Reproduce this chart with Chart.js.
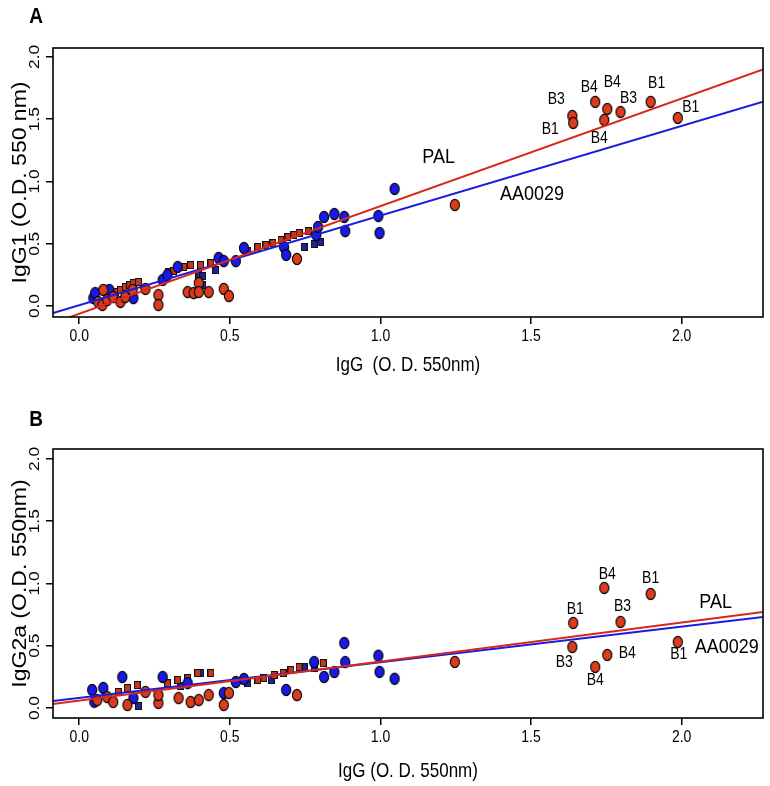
<!DOCTYPE html>
<html><head><meta charset="utf-8">
<script src="https://cdn.jsdelivr.net/npm/chart.js@4.4.1/dist/chart.umd.min.js"></script>
<style>
html,body{margin:0;padding:0;background:#fff;}
#wrap{position:relative;width:770px;height:786px;overflow:hidden;}
canvas{position:absolute;left:0;}
</style></head><body>
<div id="wrap">
<canvas id="cA" width="770" height="393" style="top:0"></canvas>
<canvas id="cB" width="770" height="393" style="top:393px"></canvas>
</div>
<script>
// ---------- data ----------
const xTicks = [0, 0.5, 1.0, 1.5, 2.0];
const yTicks = [0, 0.5, 1.0, 1.5, 2.0];

// Panel A : IgG1 vs IgG
const palA_x = [0.063,0.077,0.08,0.093,0.113,0.137,0.153,0.177,0.22,0.263,0.263,0.36,0.38,0.397,0.397,0.43,0.48,0.497,0.723,1.247];
const palA_y = [0.032,0.008,0.129,0.048,0.072,0.032,0.072,0.129,0.137,0.088,0.008,0.112,0.104,0.185,0.112,0.112,0.137,0.08,0.378,0.811];
const aaA_x  = [0.047,0.053,0.1,0.18,0.277,0.293,0.327,0.463,0.48,0.52,0.547,0.68,0.687,0.787,0.793,0.813,0.847,0.88,0.883,0.993,0.997,1.047];
const aaA_y  = [0.064,0.104,0.129,0.064,0.209,0.249,0.313,0.386,0.361,0.361,0.466,0.474,0.41,0.57,0.635,0.715,0.739,0.715,0.602,0.723,0.586,0.94];
const palSqA_x = [0.097,0.12,0.137,0.153,0.167,0.18,0.197,0.297,0.313,0.347,0.37,0.403,0.437,0.593,0.62,0.643,0.67,0.693,0.713,0.73,0.76];
const palSqA_y = [0.088,0.112,0.129,0.153,0.169,0.185,0.193,0.273,0.281,0.313,0.329,0.329,0.345,0.474,0.49,0.506,0.53,0.554,0.57,0.586,0.6];
const aaSqA_x = [0.397,0.41,0.41,0.453,0.56,0.747,0.78,0.8];
const aaSqA_y = [0.249,0.169,0.241,0.289,0.44,0.474,0.498,0.514];
const strainA_x = [1.637,1.64,1.713,1.753,1.743,1.797,1.897,1.987];
const strainA_y = [1.526,1.47,1.639,1.582,1.494,1.558,1.639,1.51];
const strainA_lab = ['B3','B1','B4','B4','B4','B3','B1','B1'];
const fitA = {palSlope:0.864, palIntercept:-0.062, aaSlope:0.72, aaIntercept:0.007};

// Panel B : IgG2a vs IgG
const palB_x = [0.06,0.093,0.113,0.16,0.22,0.263,0.263,0.33,0.37,0.397,0.43,0.497,0.48,0.723,1.247];
const palB_y = [0.064,0.088,0.048,0.024,0.129,0.04,0.104,0.08,0.048,0.064,0.104,0.12,0.024,0.104,0.37];
const aaB_x  = [0.043,0.05,0.08,0.143,0.18,0.277,0.36,0.48,0.52,0.547,0.687,0.78,0.813,0.847,0.88,0.883,0.993,0.997,1.047];
const aaB_y  = [0.145,0.05,0.161,0.249,0.08,0.249,0.2,0.12,0.209,0.233,0.145,0.369,0.249,0.289,0.522,0.369,0.42,0.29,0.235];
const palSqB_x = [0.13,0.16,0.193,0.293,0.327,0.36,0.393,0.437,0.593,0.613,0.647,0.677,0.703,0.73,0.81];
const palSqB_y = [0.129,0.161,0.185,0.2,0.225,0.24,0.281,0.281,0.225,0.241,0.265,0.281,0.305,0.329,0.361];
const aaSqB_x = [0.197,0.337,0.403,0.56,0.637,0.747,0.78];
const aaSqB_y = [0.016,0.177,0.281,0.2,0.225,0.329,0.321];
const strainB_x = [1.637,1.64,1.713,1.753,1.743,1.797,1.897,1.987];
const strainB_y = [0.49,0.683,0.33,0.426,0.964,0.691,0.916,0.53];
const strainB_lab = ['B3','B1','B4','B4','B4','B3','B1','B1'];
const fitB = {palSlope:0.3135, palIntercept:0.059, aaSlope:0.286, aaIntercept:0.081};

const lineNames = ['PAL','AA0029'];

// ---------- styling / layout ----------
const XMIN = -0.087, XMAX = 2.27;
const RED = '#dc3c1e', BLUE = '#1a1ae8', RED_SQ = '#c8361c', BLUE_SQ = '#22229a';
const FONT = '"Liberation Sans", Arial, sans-serif';
const SY = 1.15; // vertical stretch of the original figure

function ellipse(fill){
  const c=document.createElement('canvas'); c.width=12; c.height=14;
  const g=c.getContext('2d'); g.beginPath(); g.ellipse(6,7,4.6,5.6,0,0,Math.PI*2);
  g.fillStyle=fill; g.fill(); g.lineWidth=1.1; g.strokeStyle='#000'; g.stroke(); return c;
}
function square(fill){
  const c=document.createElement('canvas'); c.width=7; c.height=8;
  const g=c.getContext('2d'); g.fillStyle=fill; g.fillRect(0.5,0.5,6,7);
  g.lineWidth=1; g.strokeStyle='#111'; g.strokeRect(0.5,0.5,6,7); return c;
}
const imgRed=ellipse(RED), imgBlue=ellipse(BLUE), sqRed=square(RED_SQ), sqBlue=square(BLUE_SQ);

const zip=(xs,ys)=>xs.map((x,i)=>({x:x,y:ys[i]}));
const fitLine=(a,b)=>[{x:XMIN,y:b+a*XMIN},{x:XMAX,y:b+a*XMAX}];

function txt(ctx,s,x,y,size,opt){
  opt=opt||{};
  ctx.save(); ctx.translate(x,y);
  if(opt.rot){ ctx.rotate(-Math.PI/2); ctx.scale(SY,1); } else ctx.scale(1,SY);
  ctx.font=(opt.bold?'bold ':'')+size+'px '+FONT;
  ctx.fillStyle='#000'; ctx.textAlign=opt.align||'center'; ctx.textBaseline='middle';
  ctx.fillText(s,0,0); ctx.restore();
}

function makeChart(id, P){
  const textPlugin = {
    id:'txt'+id,
    afterDraw(chart){
      const ctx=chart.ctx, a=chart.chartArea, xs=chart.scales.x, ys=chart.scales.y;
      ctx.save(); ctx.strokeStyle='#000'; ctx.lineWidth=1.6;
      ctx.strokeRect(a.left,a.top,a.right-a.left,a.bottom-a.top); ctx.restore();
      // y tick labels (rotated, R style)
      yTicks.forEach(v=>txt(ctx,v.toFixed(1),35,ys.getPixelForValue(v),15,{rot:true}));
      // x tick labels
      xTicks.forEach(v=>txt(ctx,v.toFixed(1),xs.getPixelForValue(v),a.bottom+20,14));
      // axis titles
      txt(ctx,P.yTitle,20,(a.top+a.bottom)/2,20,{rot:true});
      txt(ctx,P.xTitle,(a.left+a.right)/2,a.bottom+P.xTitleOff,17);
      // panel letter
      txt(ctx,P.letter,36,P.letterY,19,{bold:true});
      // strain labels
      P.sx.forEach((x,i)=>{
        const o=P.offs[i];
        txt(ctx,P.slab[i],xs.getPixelForValue(x)+o[0],ys.getPixelForValue(P.sy[i])+o[1],14);
      });
      // line names
      P.names.forEach(n=>txt(ctx,n.t,xs.getPixelForValue(n.x),ys.getPixelForValue(n.y),18));
    }
  };
  return new Chart(document.getElementById(id),{
    type:'scatter',
    data:{datasets:[
      {data:fitLine(P.fit.palSlope,P.fit.palIntercept),showLine:true,borderColor:'#d8281c',borderWidth:2,pointRadius:0,order:0},
      {data:fitLine(P.fit.aaSlope,P.fit.aaIntercept),showLine:true,borderColor:'#1c1ce0',borderWidth:2,pointRadius:0,order:1},
      {data:zip(P.sx,P.sy),pointStyle:imgRed,order:2},
      {data:zip(P.pal[0],P.pal[1]),pointStyle:imgRed,order:3},
      {data:zip(P.aa[0],P.aa[1]),pointStyle:imgBlue,order:4},
      {data:zip(P.palSq[0],P.palSq[1]),pointStyle:sqRed,order:5},
      {data:zip(P.aaSq[0],P.aaSq[1]),pointStyle:sqBlue,order:6}
    ]},
    options:{
      responsive:false, animation:false, devicePixelRatio:1,
      layout:{padding:{left:40,right:7,top:P.top,bottom:P.bottom}},
      plugins:{legend:{display:false},tooltip:{enabled:false}},
      elements:{point:{radius:5,hoverRadius:5}},
      scales:{
        x:{type:'linear',min:XMIN,max:XMAX,
           afterBuildTicks:s=>{s.ticks=xTicks.map(v=>({value:v}));},
           afterFit:s=>{s.height=20;},
           grid:{drawOnChartArea:false,drawTicks:true,tickLength:7,color:'#000',lineWidth:1.5},
           border:{display:false}, ticks:{display:false}},
        y:{type:'linear',min:P.ymin,max:P.ymax,
           afterBuildTicks:s=>{s.ticks=yTicks.map(v=>({value:v}));},
           afterFit:s=>{s.width=13;},
           grid:{drawOnChartArea:false,drawTicks:true,tickLength:7,color:'#000',lineWidth:1.5},
           border:{display:false}, ticks:{display:false}}
      }
    },
    plugins:[textPlugin]
  });
}

makeChart('cA',{
  letter:'A', letterY:17, top:48, bottom:56, ymin:-0.088, ymax:2.072,
  yTitle:'IgG1 (O.D. 550 nm)', xTitle:'IgG  (O. D. 550nm)', xTitleOff:49,
  pal:[palA_x,palA_y], aa:[aaA_x,aaA_y], palSq:[palSqA_x,palSqA_y], aaSq:[aaSqA_x,aaSqA_y],
  sx:strainA_x, sy:strainA_y, slab:strainA_lab,
  offs:[[-16,-16],[-23,7],[-6,-14],[5,-26],[-5,19],[8,-13],[6,-18],[13,-10]],
  fit:fitA,
  names:[{t:lineNames[0],x:1.193,y:1.197},{t:lineNames[1],x:1.503,y:0.9}]
});
makeChart('cB',{
  letter:'B', letterY:27, top:56, bottom:48, ymin:-0.08, ymax:2.08,
  yTitle:'IgG2a (O.D. 550nm)', xTitle:'IgG (O. D. 550nm)', xTitleOff:54,
  pal:[palB_x,palB_y], aa:[aaB_x,aaB_y], palSq:[palSqB_x,palSqB_y], aaSq:[aaSqB_x,aaSqB_y],
  sx:strainB_x, sy:strainB_y, slab:strainB_lab,
  offs:[[-8,16],[2,-13],[0,14],[20,-1],[3,-13],[2,-15],[0,-15],[1,13]],
  fit:fitB,
  names:[{t:lineNames[0],x:2.113,y:0.851},{t:lineNames[1],x:2.15,y:0.49}]
});
</script>
</body></html>
